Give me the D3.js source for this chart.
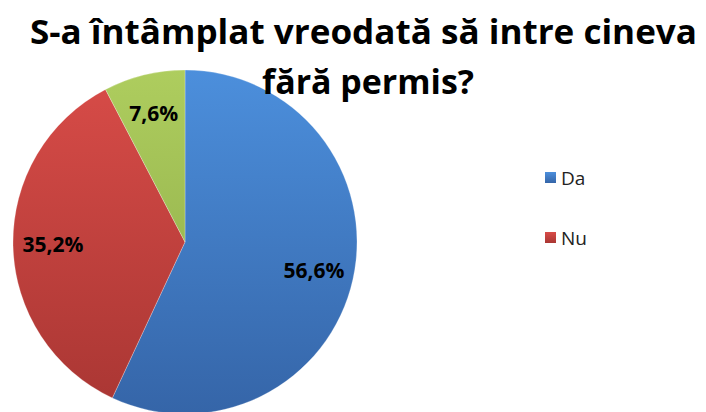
<!DOCTYPE html>
<html>
<head>
<meta charset="utf-8">
<script src="https://cdn.jsdelivr.net/npm/d3@7"></script>
<style>
  body { margin: 0; background: #fff; }
  svg { display: block; }
</style>
</head>
<body>
<div class="chart"></div>
<script>
var categories = ["Da", "Nu", ""];
var values = [56.6, 35.2, 7.6];
var labels = ["56,6%", "35,2%", "7,6%"];
var colorsTop = ["#4c8fdc", "#d84c48", "#aecd5e"];
var colorsBottom = ["#3565a8", "#a93633", "#8aa846"];

var width = 706, height = 412;
var radius = 172;
var cx = 185, cy = 242;

var svg = d3.select(".chart")
  .append("svg")
  .attr("width", width)
  .attr("height", height);

var defs = svg.append("defs");
categories.forEach(function(c, i){
  // slice gradient, in the pie group's coordinates
  var g = defs.append("linearGradient")
    .attr("id", "grad" + i)
    .attr("gradientUnits", "userSpaceOnUse")
    .attr("x1", 0).attr("y1", -radius)
    .attr("x2", 0).attr("y2", radius);
  g.append("stop").attr("offset", "0%").attr("stop-color", colorsTop[i]);
  g.append("stop").attr("offset", "100%").attr("stop-color", colorsBottom[i]);

  var lg = defs.append("linearGradient")
    .attr("id", "lgrad" + i)
    .attr("x1", 0).attr("y1", 0)
    .attr("x2", 0).attr("y2", 1);
  lg.append("stop").attr("offset", "0%").attr("stop-color", colorsTop[i]);
  lg.append("stop").attr("offset", "100%").attr("stop-color", colorsBottom[i]);
});

// pie
var pie = d3.pie().sort(null).value(function(d){ return d; });
var arc = d3.arc().innerRadius(0).outerRadius(radius);
var labelArc = d3.arc().innerRadius(132).outerRadius(132);
var arcs = pie(values);

var g = svg.append("g")
  .attr("transform", "translate(" + cx + "," + cy + ")");

g.selectAll("path")
  .data(arcs)
  .enter().append("path")
  .attr("d", arc)
  .attr("fill", function(d, i){ return "url(#grad" + i + ")"; })
  .attr("stroke", "rgba(255,255,255,0.25)")
  .attr("stroke-width", 1);

g.selectAll("text")
  .data(arcs)
  .enter().append("text")
  .attr("transform", function(d){ return "translate(" + labelArc.centroid(d) + ")"; })
  .attr("text-anchor", "middle")
  .attr("dy", "0.35em")
  .style("font-family", "'Open Sans', sans-serif")
  .style("font-weight", "bold")
  .style("font-size", "21px")
  .attr("fill", "#000")
  .text(function(d, i){ return labels[i]; });

// title
var title = svg.append("g")
  .style("font-family", "'Open Sans', sans-serif")
  .style("font-weight", "bold")
  .style("font-size", "34px")
  .attr("fill", "#000");

title.append("text")
  .attr("x", 30).attr("y", 44)
  .attr("textLength", 667)
  .attr("lengthAdjust", "spacingAndGlyphs")
  .text("S-a întâmplat vreodată să intre cineva");

title.append("text")
  .attr("x", 262).attr("y", 94)
  .attr("textLength", 212)
  .attr("lengthAdjust", "spacingAndGlyphs")
  .text("fără permis?");

// legend
var legendItems = categories.map(function(c, i){ return { name: c, i: i }; })
  .filter(function(d){ return d.name !== ""; });

var legend = svg.append("g")
  .attr("transform", "translate(545,177)");

var li = legend.selectAll("g")
  .data(legendItems)
  .enter().append("g")
  .attr("transform", function(d, k){ return "translate(0," + (k * 60) + ")"; });

li.append("rect")
  .attr("x", 0).attr("y", -5)
  .attr("width", 11).attr("height", 11)
  .attr("fill", function(d){ return "url(#lgrad" + d.i + ")"; });

li.append("text")
  .attr("x", 16).attr("y", 1)
  .attr("dy", "0.35em")
  .style("font-family", "'Open Sans', sans-serif")
  .style("font-size", "19px")
  .attr("fill", "#222")
  .text(function(d){ return d.name; });
</script>
</body>
</html>
